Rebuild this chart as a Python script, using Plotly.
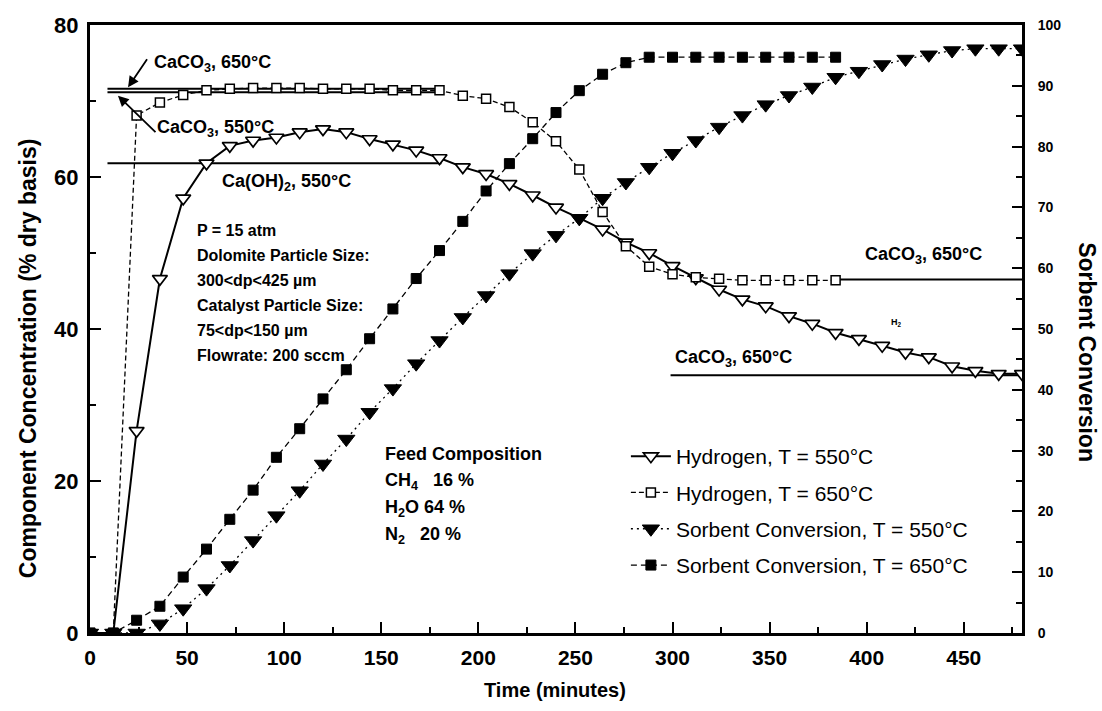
import plotly.graph_objects as go

# ---------------- data ----------------
time_min = [12 * i for i in range(41)]

h2_550 = [0, 0, 26.6, 46.6, 57.2, 61.8, 64.1, 64.8, 65.2, 65.9, 66.3, 65.9, 65.0, 64.3,
          63.5, 62.5, 61.3, 60.4, 59.1, 57.6, 56.0, 54.6, 53.1, 51.4, 50.0, 48.3, 46.7,
          45.2, 43.9, 43.0, 41.7, 40.7, 39.5, 38.7, 37.8, 36.9, 36.3, 35.1, 34.5, 34.1, 34.1]

h2_650 = [0, 0, 68.1, 69.8, 70.8, 71.4, 71.6, 71.7, 71.7, 71.7, 71.6, 71.6, 71.6, 71.4,
          71.4, 71.4, 70.7, 70.3, 69.2, 67.2, 64.7, 61.0, 55.4, 50.9, 48.2, 47.2, 46.8,
          46.6, 46.4, 46.4, 46.4, 46.4, 46.4]

sorb_550 = [0, 0, 0, 1.5, 4.0, 7.3, 11.1, 15.2, 19.3, 23.4, 27.8, 31.9, 36.3, 40.2, 44.3,
            48.1, 51.9, 55.5, 59.1, 62.4, 65.4, 68.2, 71.5, 74.1, 76.6, 78.9, 81.0, 83.2,
            85.1, 86.9, 88.4, 89.8, 91.4, 92.4, 93.5, 94.4, 95.1, 95.8, 96.1, 96.1, 96.1]

sorb_650 = [0, 0, 2.1, 4.4, 9.2, 13.8, 18.7, 23.5, 28.9, 33.6, 38.5, 43.3, 48.4, 53.3,
            58.3, 62.9, 67.7, 72.7, 77.2, 81.3, 85.6, 89.2, 91.9, 93.8, 94.7, 94.7, 94.7,
            94.7, 94.7, 94.7, 94.7, 94.7, 94.7]

legend_names = ["Hydrogen, T = 550°C", "Hydrogen, T = 650°C",
                "Sorbent Conversion, T = 550°C", "Sorbent Conversion, T = 650°C"]

# equilibrium reference lines (left axis)
ref_levels = [71.6, 71.15, 61.8, 46.5, 33.9]
ref_start = [9, 9, 9, 383, 299]
ref_end = [181, 181, 181, 480, 480]

x_ticks = list(range(0, 451, 50))
left_ticks = [0, 20, 40, 60, 80]
right_ticks = list(range(0, 101, 10))

param_lines = ["P = 15 atm", "Dolomite Particle Size:", "300<dp<425 µm",
               "Catalyst Particle Size:", "75<dp<150 µm", "Flowrate: 200 sccm"]
feed_lines = ["Feed Composition", "CH<sub>4</sub>\u00a0\u00a0\u00a016 %",
              "H<sub>2</sub>O 64 %", "N<sub>2</sub>\u00a0\u00a0\u00a020 %"]

FONT = "Liberation Sans"

fig = go.Figure()

# reference lines
for lvl, xs, xe in zip(ref_levels, ref_start, ref_end):
    fig.add_trace(go.Scatter(x=[xs, xe], y=[lvl, lvl], mode="lines",
                             line=dict(color="black", width=2), showlegend=False,
                             hoverinfo="skip"))

n650 = len(h2_650)
fig.add_trace(go.Scatter(
    x=time_min, y=h2_550, name=legend_names[0], legendgroup="a",
    mode="lines+markers",
    line=dict(color="black", width=2),
    marker=dict(symbol="triangle-down", size=13, color="white",
                line=dict(color="black", width=1.7))))
fig.add_trace(go.Scatter(
    x=time_min[:n650], y=h2_650, name=legend_names[1], legendgroup="b",
    mode="lines+markers",
    line=dict(color="black", width=1.3, dash="5px,3px"),
    marker=dict(symbol="square", size=9, color="white",
                line=dict(color="black", width=1.5))))
fig.add_trace(go.Scatter(
    x=time_min, y=sorb_550, name=legend_names[2], legendgroup="c", yaxis="y2",
    mode="lines+markers",
    line=dict(color="black", width=1.3, dash="2px,4px"),
    marker=dict(symbol="triangle-down", size=15, color="black",
                line=dict(color="black", width=1))))
fig.add_trace(go.Scatter(
    x=time_min[:len(sorb_650)], y=sorb_650, name=legend_names[3], legendgroup="d",
    yaxis="y2", mode="lines+markers",
    line=dict(color="black", width=1.3, dash="6px,4px"),
    marker=dict(symbol="square", size=10, color="black",
                line=dict(color="black", width=1))))

axis_common = dict(showline=True, linecolor="black", linewidth=3, ticks="inside",
                   tickcolor="black", tickwidth=2, showgrid=False, zeroline=False)

fig.update_layout(
    width=1102, height=711, autosize=False,
    margin=dict(l=90, r=80, t=25, b=78),
    paper_bgcolor="white", plot_bgcolor="white",
    font=dict(family=FONT, color="black"),
    xaxis=dict(range=[0, 480], tickvals=x_ticks, ticklen=11, mirror=True,
               minor=dict(dtick=25, ticks="inside", ticklen=6, tickcolor="black", tickwidth=2),
               tickfont=dict(family=FONT, size=21, weight="bold"), ticklabelstandoff=4,
               **axis_common),
    yaxis=dict(range=[0, 80], tickvals=left_ticks, ticklen=11,
               minor=dict(dtick=10, ticks="inside", ticklen=6, tickcolor="black", tickwidth=2),
               tickfont=dict(family=FONT, size=22, weight="bold"), ticklabelstandoff=4,
               **axis_common),
    yaxis2=dict(range=[0, 100], tickvals=right_ticks, ticklen=10, overlaying="y", side="right",
                minor=dict(dtick=5, ticks="inside", ticklen=6, tickcolor="black", tickwidth=2),
                tickfont=dict(family=FONT, size=14, weight="bold"), ticklabelstandoff=10,
                **axis_common),
    legend=dict(x=0.575, y=0.324, xanchor="left", yanchor="top",
                font=dict(family=FONT, size=21, color="black"),
                bgcolor="rgba(0,0,0,0)", tracegroupgap=6, itemwidth=40),
    showlegend=True,
)

ann = []
# axis titles
ann.append(dict(text="Time (minutes)", xref="paper", yref="paper", x=0.499, y=-0.094,
                xanchor="center", yanchor="middle",
                showarrow=False, font=dict(size=20, weight="bold")))
ann.append(dict(text="Component Concentration (% dry basis)", xref="paper", yref="paper",
                x=-0.0665, y=0.452, xanchor="center", yanchor="middle", textangle=-90,
                showarrow=False, font=dict(size=23, weight="bold")))
ann.append(dict(text="Sorbent Conversion", xref="paper", yref="paper",
                x=1.0697, y=0.462, xanchor="center", yanchor="middle", textangle=90,
                showarrow=False, font=dict(size=23, weight="bold")))

# arrows
ann.append(dict(x=19.6, y=71.8, ax=29.9, ay=75.7, xref="x", yref="y", axref="x", ayref="y",
                text="", showarrow=True, arrowhead=2, arrowsize=1.2, arrowwidth=1.8,
                arrowcolor="black"))
ann.append(dict(x=14.4, y=70.7, ax=34.5, ay=65.7, xref="x", yref="y", axref="x", ayref="y",
                text="", showarrow=True, arrowhead=2, arrowsize=1.2, arrowwidth=1.8,
                arrowcolor="black"))

# labels
labels = [("CaCO<sub>3</sub>, 650°C", 31.9, 74.9),
          ("CaCO<sub>3</sub>, 550°C", 33.5, 66.4),
          ("Ca(OH)<sub>2</sub>, 550°C", 66.9, 59.3),
          ("CaCO<sub>3</sub>, 650°C", 398, 49.7),
          ("CaCO<sub>3</sub>, 650°C", 300.2, 36.1)]
for t, x, y in labels:
    ann.append(dict(text=t, x=x, y=y, xref="x", yref="y", xanchor="left", yanchor="middle",
                    showarrow=False, font=dict(size=18, weight="bold")))
ann.append(dict(text="H<sub>2</sub>", x=415.5, y=40.9, xref="x", yref="y",
                xanchor="center", yanchor="middle",
                showarrow=False, font=dict(size=9, weight="bold")))

for i, t in enumerate(param_lines):
    ann.append(dict(text=t, x=54, y=52.9 - i * 3.29, xref="x", yref="y", xanchor="left",
                    yanchor="middle", showarrow=False, font=dict(size=16, weight="bold")))
for i, t in enumerate(feed_lines):
    ann.append(dict(text=t, x=151, y=23.6 - i * 3.6, xref="x", yref="y", xanchor="left",
                    yanchor="middle", showarrow=False, font=dict(size=18, weight="bold")))

fig.update_layout(annotations=ann)
fig.write_html("out.html")
